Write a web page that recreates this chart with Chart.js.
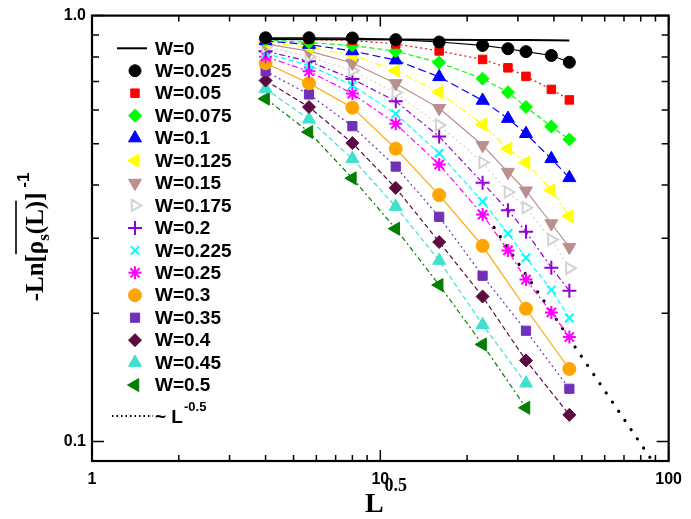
<!DOCTYPE html>
<html lang="en">
<head>
<meta charset="UTF-8">
<title>-Ln[rho_s(L)]^-1 versus L^0.5</title>
<script src="https://cdn.jsdelivr.net/npm/chart.js@4"></script>
<style>
  html, body { margin: 0; padding: 0; background: #ffffff; }
  .chart-box { width: 691px; height: 519px; }
</style>
</head>
<body>
<div class="chart-box"><canvas id="rhoChart" width="691" height="519"></canvas></div>
<script>
// x positions: L^0.5 for L = 16, 32, 64, 128, 256, 512, 768, 1024, 1536, 2048
const sqrtL_all   = [4, 5.657, 8, 11.31, 16, 22.63, 27.71, 32, 39.19, 45.25];
const sqrtL_even  = [4, 5.657, 8, 11.31, 16, 22.63, 32, 45.25];
const sqrtL_short = [4, 5.657, 8, 11.31, 16, 22.63, 32];

const wLabels = ['W=0', 'W=0.025', 'W=0.05', 'W=0.075', 'W=0.1', 'W=0.125', 'W=0.15', 'W=0.175',
                 'W=0.2', 'W=0.225', 'W=0.25', 'W=0.3', 'W=0.35', 'W=0.4', 'W=0.45', 'W=0.5'];

// -Ln[rho_s(L)]^-1
const w000 = [0.881, 0.880, 0.880, 0.879, 0.878, 0.877, 0.876, 0.876, 0.875, 0.874];
const w025 = [0.887, 0.887, 0.886, 0.878, 0.867, 0.851, 0.836, 0.823, 0.806, 0.777];
const w050 = [0.883, 0.879, 0.874, 0.858, 0.826, 0.789, 0.754, 0.720, 0.671, 0.634];
const w075 = [0.878, 0.864, 0.851, 0.825, 0.776, 0.711, 0.661, 0.610, 0.549, 0.512];
const w100 = [0.872, 0.855, 0.826, 0.786, 0.718, 0.632, 0.573, 0.528, 0.461, 0.416];
const w125 = [0.866, 0.843, 0.808, 0.743, 0.661, 0.555, 0.487, 0.452, 0.389, 0.338];
const w150 = [0.858, 0.825, 0.774, 0.693, 0.606, 0.496, 0.429, 0.388, 0.325, 0.286];
const w175 = [0.845, 0.801, 0.743, 0.659, 0.553, 0.452, 0.385, 0.354, 0.298, 0.255];
const w200 = [0.825, 0.781, 0.710, 0.629, 0.520, 0.405, 0.349, 0.311, 0.256, 0.226];
const w225 = [0.815, 0.764, 0.686, 0.588, 0.475, 0.366, 0.308, 0.270, 0.227, 0.195];
const w250 = [0.801, 0.740, 0.656, 0.557, 0.447, 0.341, 0.281, 0.240, 0.201, 0.176];
const w300 = [0.773, 0.694, 0.608, 0.487, 0.379, 0.288, 0.205, 0.148];
const w350 = [0.740, 0.653, 0.550, 0.442, 0.337, 0.245, 0.182, 0.133];
const w400 = [0.704, 0.610, 0.502, 0.394, 0.294, 0.219, 0.155, 0.1155];
const w450 = [0.673, 0.571, 0.461, 0.356, 0.266, 0.188, 0.137];
const w500 = [0.638, 0.533, 0.415, 0.316, 0.233, 0.169, 0.120];

// ~ L^-0.5 guide (end points)
const guideLabel = '~ L';
const guideX = [24.8, 88];
const guideY = [0.318, 0.0898];

const xTickLabels = ['1', '10', '100'];
const yTickLabels = ['0.1', '1.0'];

// one entry per W series: x set, values
const seriesX = [sqrtL_all, sqrtL_all, sqrtL_all, sqrtL_all, sqrtL_all, sqrtL_all, sqrtL_all, sqrtL_all,
                 sqrtL_all, sqrtL_all, sqrtL_all, sqrtL_even, sqrtL_even, sqrtL_even, sqrtL_short, sqrtL_short];
const seriesY = [w000, w025, w050, w075, w100, w125, w150, w175, w200, w225, w250, w300, w350, w400, w450, w500];

const looks = [
  { color: '#000000', style: false,      r: 0,   dash: [],           lw: 2 },
  { color: '#000000', style: 'circle',   r: 6,   dash: [],           lw: 1.2 },
  { color: '#ff0000', style: 'rect',     r: 6,   dash: [2, 3],       lw: 1.2 },
  { color: '#00ff00', style: 'rectRot',  r: 6.5, dash: [5, 3],       lw: 1.2 },
  { color: '#0000ff', style: 'triangle', r: 7.5, dash: [8, 4],       lw: 1.2 },
  { color: '#ffff00', style: 'triangle', r: 7.5, dash: [8, 3, 2, 3], lw: 1.2, rot: -90 },
  { color: '#bc8f8f', style: 'triangle', r: 7.5, dash: [],           lw: 1.2, rot: 180 },
  { color: '#d3d3d3', style: 'triangle', r: 6.5, dash: [2, 3],       lw: 1.2, rot: 90, hollow: true },
  { color: '#9400d3', style: 'cross',    r: 7,   dash: [6, 3, 2, 3], lw: 1.2 },
  { color: '#00ffff', style: 'crossRot', r: 6,   dash: [5, 3],       lw: 1.2 },
  { color: '#ff00ff', style: 'star',     r: 6.5, dash: [6, 3, 2, 3], lw: 1.2 },
  { color: '#ffa500', style: 'circle',   r: 6.5, dash: [],           lw: 1.2 },
  { color: '#7030b8', style: 'rect',     r: 6.5, dash: [2, 3],       lw: 1.2 },
  { color: '#5c0a40', style: 'rectRot',  r: 6.5, dash: [5, 3],       lw: 1.2 },
  { color: '#40e0d0', style: 'triangle', r: 7.5, dash: [5, 3],       lw: 1.2 },
  { color: '#008000', style: 'triangle', r: 7.5, dash: [5, 3, 2, 3], lw: 1.2, rot: -90 }
];

const datasets = seriesY.map((ys, i) => {
  const lk = looks[i];
  const cross = lk.style === 'cross' || lk.style === 'crossRot' || lk.style === 'star';
  return {
    label: wLabels[i],
    data: ys.map((v, k) => ({ x: seriesX[i][k], y: v })),
    borderColor: lk.color,
    borderWidth: lk.lw,
    borderDash: lk.dash,
    pointStyle: lk.style || 'circle',
    pointRadius: lk.r,
    pointRotation: lk.rot || 0,
    pointBackgroundColor: lk.hollow ? '#ffffff' : lk.color,
    pointBorderColor: lk.color,
    pointBorderWidth: (lk.hollow || cross) ? 2 : 1,
    fill: false,
    tension: 0
  };
});
datasets.push({
  label: guideLabel,
  data: guideX.map((x, k) => ({ x: x, y: guideY[k] })),
  borderColor: '#000000',
  borderWidth: 3.2,
  borderDash: [0.1, 11],
  borderCapStyle: 'round',
  pointRadius: 0,
  fill: false
});

function isDecade(v) {
  const l = Math.log10(v);
  return Math.abs(l - Math.round(l)) < 1e-6;
}

// inward ticks on all four sides + frame
const frameTicks = {
  id: 'frameTicks',
  afterDraw(chart) {
    const { ctx, chartArea: a, scales: { x, y } } = chart;
    ctx.save();
    ctx.strokeStyle = '#000';
    ctx.lineWidth = 1.5;
    ctx.beginPath();
    x.ticks.forEach(t => {
      const px = x.getPixelForValue(t.value);
      const len = isDecade(t.value) ? 11 : 6;
      ctx.moveTo(px, a.bottom); ctx.lineTo(px, a.bottom - len);
      ctx.moveTo(px, a.top); ctx.lineTo(px, a.top + len);
    });
    y.ticks.forEach(t => {
      const py = y.getPixelForValue(t.value);
      const len = isDecade(t.value) ? 12 : 7;
      ctx.moveTo(a.left, py); ctx.lineTo(a.left + len, py);
      ctx.moveTo(a.right, py); ctx.lineTo(a.right - len, py);
    });
    ctx.stroke();
    ctx.lineWidth = 2.2;
    ctx.strokeRect(a.left, a.top, a.right - a.left, a.bottom - a.top);
    ctx.restore();
  }
};

// legend drawn inside the plot area
const insideLegend = {
  id: 'insideLegend',
  afterDraw(chart) {
    const ctx = chart.ctx;
    const mx = 135, tx = 155, y0 = 48.3, dy = 22.45;
    ctx.save();
    ctx.font = 'bold 19px Arial, "Liberation Sans", sans-serif';
    ctx.textBaseline = 'middle';
    wLabels.forEach((lab, i) => {
      const lk = looks[i];
      const ly = y0 + i * dy;
      ctx.fillStyle = '#000';
      ctx.fillText(lab, tx, ly + 1);
      if (!lk.style) {
        ctx.strokeStyle = lk.color;
        ctx.lineWidth = lk.lw;
        ctx.beginPath(); ctx.moveTo(117, ly); ctx.lineTo(147, ly); ctx.stroke();
        return;
      }
      const ds = chart.data.datasets[i];
      ctx.fillStyle = ds.pointBackgroundColor;
      ctx.strokeStyle = ds.pointBorderColor;
      ctx.lineWidth = ds.pointBorderWidth;
      ctx.setLineDash([]);
      Chart.helpers.drawPoint(ctx, {
        pointStyle: ds.pointStyle, rotation: ds.pointRotation,
        radius: ds.pointRadius, borderWidth: ds.pointBorderWidth
      }, mx, ly);
    });
    // power-law guide entry
    const gy = 416;
    ctx.strokeStyle = '#000';
    ctx.lineWidth = 2;
    ctx.setLineDash([1.5, 3]);
    ctx.beginPath(); ctx.moveTo(112, gy); ctx.lineTo(153, gy); ctx.stroke();
    ctx.setLineDash([]);
    ctx.fillStyle = '#000';
    ctx.fillText(guideLabel, tx, gy + 2);
    const w = ctx.measureText(guideLabel).width;
    ctx.font = 'bold 13px Arial, "Liberation Sans", sans-serif';
    ctx.fillText('-0.5', tx + w + 1, gy - 9);
    ctx.restore();
  }
};

// axis titles with sub/superscripts
const axisTitles = {
  id: 'axisTitles',
  afterDraw(chart) {
    const ctx = chart.ctx;
    const serif = '"Liberation Serif", "Times New Roman", serif';
    ctx.save();
    ctx.fillStyle = '#000';
    ctx.textBaseline = 'alphabetic';
    // x title: L^0.5
    ctx.font = 'bold 28px ' + serif;
    const wl = ctx.measureText('L').width;
    ctx.font = 'bold 18px ' + serif;
    const ws = ctx.measureText('0.5').width;
    const sx = 386 - (wl + ws + 1) / 2;
    ctx.font = 'bold 28px ' + serif;
    ctx.fillText('L', sx, 512);
    ctx.font = 'bold 18px ' + serif;
    ctx.fillText('0.5', sx + wl + 1, 491);

    // y title: -Ln[ overline(rho_s(L)) ]^-1
    const big = 'bold 25px ' + serif, small = 'bold 17px ' + serif, sup = 'bold 17px Arial, sans-serif';
    const parts = [
      { t: '-Ln[', f: big, dy: 0 },
      { t: '\u03c1', f: big, dy: 0, over: true },
      { t: 's', f: small, dy: 6, over: true },
      { t: '(L)', f: big, dy: 0, over: true },
      { t: ']', f: big, dy: 0 },
      { t: ' -1', f: sup, dy: -14 }
    ];
    let total = 0;
    parts.forEach(p => { ctx.font = p.f; p.w = ctx.measureText(p.t).width; total += p.w; });
    ctx.translate(43, 237);
    ctx.rotate(-Math.PI / 2);
    let cx = -total / 2, o0 = null, o1 = null;
    parts.forEach(p => {
      ctx.font = p.f;
      ctx.fillText(p.t, cx, p.dy);
      if (p.over) { if (o0 === null) o0 = cx; o1 = cx + p.w; }
      cx += p.w;
    });
    ctx.lineWidth = 1.6;
    ctx.beginPath(); ctx.moveTo(o0, -27); ctx.lineTo(o1, -27); ctx.stroke();
    ctx.restore();
  }
};

Chart.defaults.font.family = 'Arial, "Liberation Sans", sans-serif';

const ctx = document.getElementById('rhoChart').getContext('2d');
const rhoChart = new Chart(ctx, {
  type: 'line',
  data: { datasets: datasets },
  options: {
    responsive: false,
    animation: false,
    devicePixelRatio: 1,
    layout: { padding: { top: 15, right: 14, left: 0, bottom: 0 } },
    plugins: { legend: { display: false }, tooltip: { enabled: false } },
    scales: {
      x: {
        type: 'logarithmic',
        min: 1, max: 100,
        grid: { display: false, drawTicks: false },
        border: { display: false },
        afterBuildTicks: scale => {
          const t = [];
          [1, 10].forEach(d => { for (let k = 1; k < 10; k++) t.push({ value: k * d }); });
          t.push({ value: 100 });
          scale.ticks = t;
        },
        afterFit: scale => { scale.height = 58; },
        ticks: {
          autoSkip: false, maxRotation: 0, padding: 9, color: '#000',
          font: { size: 16, weight: 'bold' },
          callback: v => xTickLabels.includes(String(v)) ? String(v) : ''
        }
      },
      y: {
        type: 'logarithmic',
        min: 0.09, max: 1.0,
        grid: { display: false, drawTicks: false },
        border: { display: false },
        afterBuildTicks: scale => {
          const t = [];
          for (let k = 1; k <= 10; k++) t.push({ value: k / 10 });
          scale.ticks = t;
        },
        afterFit: scale => { scale.width = 92; },
        ticks: {
          autoSkip: false, padding: 6, color: '#000',
          font: { size: 16, weight: 'bold' },
          callback: v => {
            if (Math.abs(v - 0.1) < 1e-9) return yTickLabels[0];
            if (Math.abs(v - 1) < 1e-9) return yTickLabels[1];
            return '';
          }
        }
      }
    }
  },
  plugins: [frameTicks, insideLegend, axisTitles]
});
</script>
</body>
</html>
